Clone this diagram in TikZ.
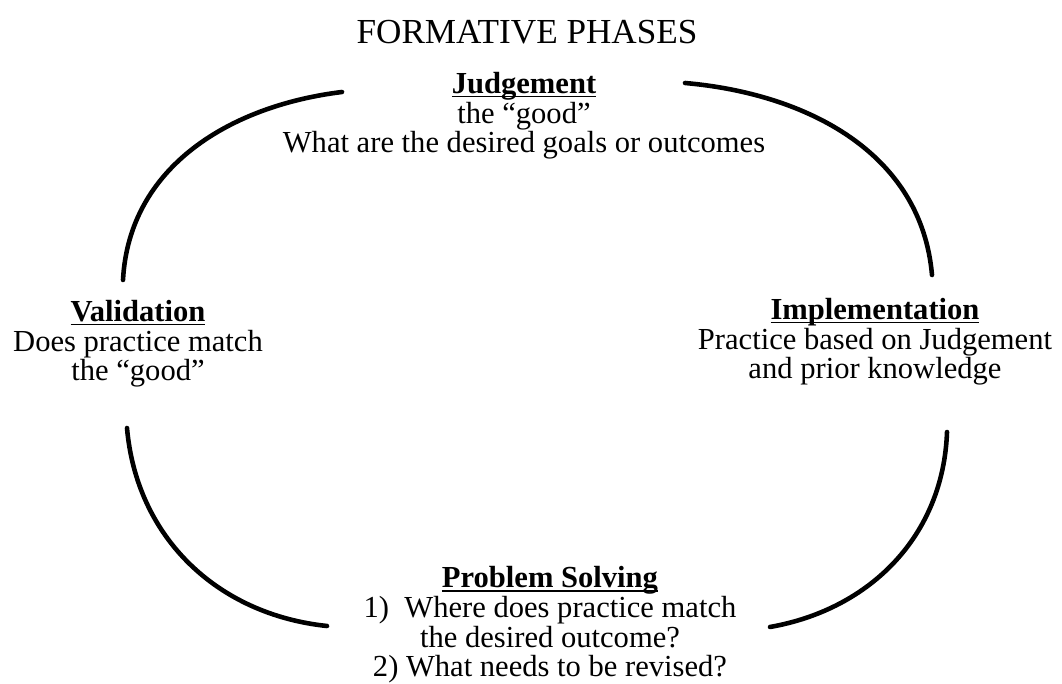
\documentclass[tikz,border=0pt]{standalone}
\usepackage{fontspec}
\setmainfont{Liberation Serif}
\tikzset{
  phase arc/.style={line width=2.6pt,line cap=round},
  phase/.style={align=center,font=\fontsize{17.4}{17}\selectfont,inner sep=0pt,anchor=base},
  heading/.style={font=\fontsize{20}{22}\selectfont,inner sep=0pt,anchor=base},
}
% bold heading with a rule just under the baseline
\newcommand{\phasehead}[1]{\setbox0\hbox{\textbf{#1}}\copy0\llap{\rule[-2.4pt]{\wd0}{0.9pt}}}

\begin{document}
\begin{tikzpicture}
  \useasboundingbox (0,0) rectangle (21.24,13.68);
  % title and the four phases (base = last line)
  \node[heading] (title) at (10.54,12.80) {FORMATIVE PHASES};
  \node[phase] (judgement) at (10.48,10.62)
    {\phasehead{Judgement}\\the “good”\\What are the desired goals or outcomes};
  \node[phase] (validation) at (2.76,6.06)
    {\phasehead{Validation}\\Does practice match\\the “good”};
  \node[phase] (implementation) at (17.50,6.10)
    {\phasehead{Implementation}\\Practice based on Judgement\\and prior knowledge};
  \node[phase] (solving) at (11.00,0.14)
    {\phasehead{Problem Solving}\\1)\ \ Where does practice match\\the desired outcome?\\2) What needs to be revised?};
  % ends of the arcs
  \coordinate (val-n) at (2.46,8.08);
  \coordinate (jud-w) at (6.84,11.84);
  \coordinate (jud-e) at (13.70,12.02);
  \coordinate (imp-n) at (18.64,8.18);
  \coordinate (imp-s) at (18.94,5.04);
  \coordinate (sol-e) at (15.40,1.14);
  \coordinate (val-s) at (2.54,5.12);
  \coordinate (sol-w) at (6.54,1.16);
  \foreach \a/\b/\o/\i in {val-n/jud-w/87/187,jud-e/imp-n/-5/95,imp-s/sol-e/-92/10,val-s/sol-w/-85/174}
    \draw[phase arc] (\a) to[out=\o,in=\i] (\b);
\end{tikzpicture}
\end{document}
